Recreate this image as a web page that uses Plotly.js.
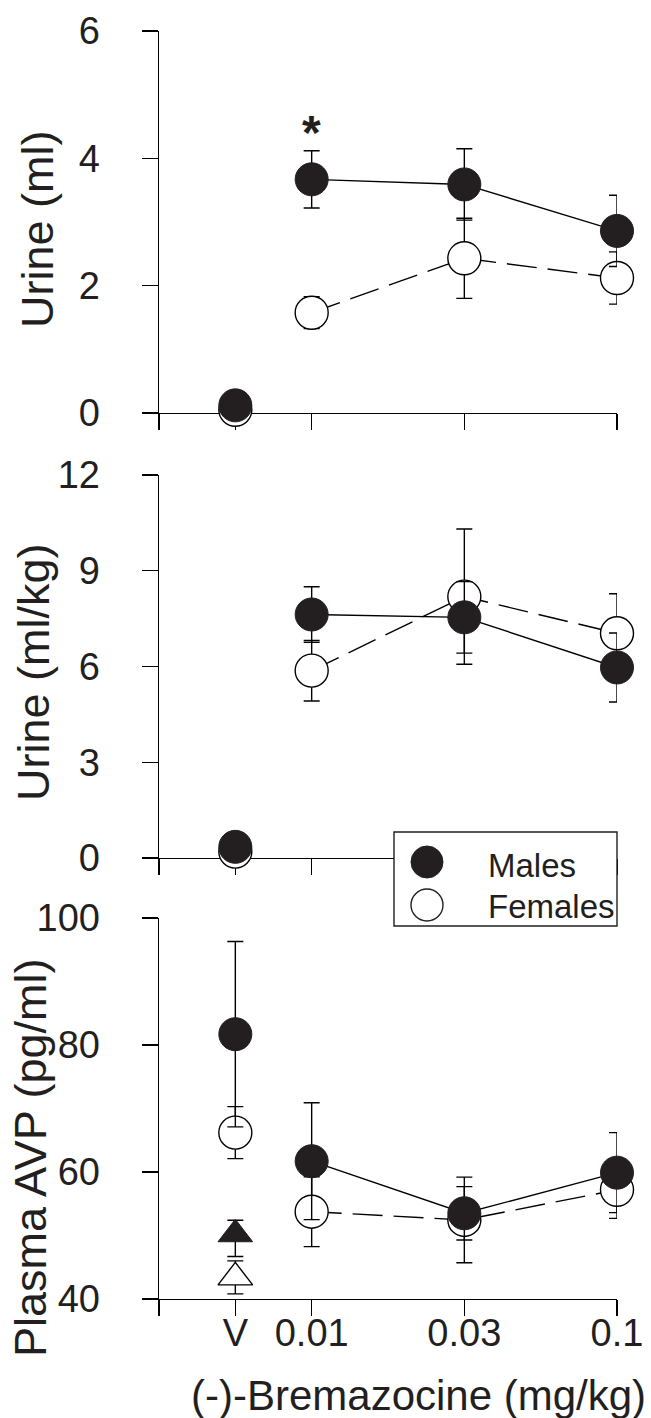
<!DOCTYPE html>
<html><head><meta charset="utf-8">
<script src="https://cdn.plot.ly/plotly-3.0.1.min.js"></script>
<style>html,body{margin:0;padding:0;background:#fff}#chart{width:651px;height:1418px}</style>
</head><body><div id="chart"></div>
<script>
// ---- data ----
const doseLabels = ['V', '0.01', '0.03', '0.1'];
const doseX = [-0.5, 0, 1, 2];

const maleUrineMl = [0.12, 3.67, 3.59, 2.86];
const maleUrineMlSE = [0, 0.45, 0.56, 0.56];
const femaleUrineMl = [0.05, 1.575, 2.43, 2.12];
const femaleUrineMlSE = [0, 0.25, 0.63, 0.41];

const maleUrineKg = [0.35, 7.63, 7.54, 5.97];
const maleUrineKgSE = [0, 0.87, 1.12, 1.08];
const femaleUrineKg = [0.2, 5.87, 8.19, 7.04];
const femaleUrineKgSE = [0, 0.95, 2.12, 1.24];

const maleAVP = [81.7, 61.7, 53.5, 59.9];
const maleAVPSE = [14.6, 9.2, 4.2, 6.3];
const femaleAVP = [66.2, 53.75, 52.45, 57.2];
const femaleAVPSE = [4.1, 5.5, 6.75, 4.5];

const maleBaselineAVP = [50.2];
const maleBaselineAVPSEplus = [2.2];
const maleBaselineAVPSEminus = [3.5];
const femaleBaselineAVP = [43.4];
const femaleBaselineAVPSE = [2.6];

// ---- style ----
const FONT = '"Liberation Sans", Arial, Helvetica, sans-serif';
const L = 159, R = 34, T = 31, B = 119, WIDTH = 651, HEIGHT = 1418;
const PW = WIDTH - L - R, PH = HEIGHT - T - B;
const px2x = p => (p - L) / PW;
const px2y = p => (HEIGHT - B - p) / PH;

const MS = 33;
function err(arr, minus) {
  const e = {type: 'data', array: arr, color: '#000', thickness: 1.4, width: 8};
  if (minus) { e.symmetric = false; e.arrayminus = minus; }
  return e;
}
function panel(xa, ya, mVals, mSE, fVals, fSE) {
  const tr = [];
  tr.push({x: doseX.slice(1), y: fVals.slice(1), xaxis: xa, yaxis: ya, type: 'scatter', mode: 'lines+markers',
    line: {color: '#000', width: 1.4, dash: '30px,11px'},
    marker: {symbol: 'circle', size: MS, color: '#fff', line: {color: '#000', width: 1.4}},
    error_y: err(fSE.slice(1)), cliponaxis: false, showlegend: false, name: 'Females'});
  tr.push({x: doseX.slice(0, 1), y: fVals.slice(0, 1), xaxis: xa, yaxis: ya, type: 'scatter', mode: 'markers',
    marker: {symbol: 'circle', size: MS, color: '#fff', line: {color: '#000', width: 1.4}},
    error_y: err(fSE.slice(0, 1)), cliponaxis: false, showlegend: false, name: 'Females'});
  tr.push({x: doseX.slice(1), y: mVals.slice(1), xaxis: xa, yaxis: ya, type: 'scatter', mode: 'lines+markers',
    line: {color: '#000', width: 1.4},
    marker: {symbol: 'circle', size: MS, color: '#231f20', line: {color: '#231f20', width: 1}},
    error_y: err(mSE.slice(1)), cliponaxis: false, showlegend: false, name: 'Males'});
  tr.push({x: doseX.slice(0, 1), y: mVals.slice(0, 1), xaxis: xa, yaxis: ya, type: 'scatter', mode: 'markers',
    marker: {symbol: 'circle', size: MS, color: '#231f20', line: {color: '#231f20', width: 1}},
    error_y: err(mSE.slice(0, 1)), cliponaxis: false, showlegend: false, name: 'Males'});
  return tr;
}

const data = [].concat(
  panel('x', 'y', maleUrineMl, maleUrineMlSE, femaleUrineMl, femaleUrineMlSE),
  panel('x2', 'y2', maleUrineKg, maleUrineKgSE, femaleUrineKg, femaleUrineKgSE),
  [{x: doseX.slice(0, 1), y: femaleBaselineAVP, xaxis: 'x3', yaxis: 'y3', type: 'scatter', mode: 'markers',
    marker: {symbol: 'triangle-up', size: 30, color: '#fff', line: {color: '#000', width: 1.4}},
    error_y: err(femaleBaselineAVPSE), cliponaxis: false, showlegend: false},
   {x: doseX.slice(0, 1), y: maleBaselineAVP, xaxis: 'x3', yaxis: 'y3', type: 'scatter', mode: 'markers',
    marker: {symbol: 'triangle-up', size: 30, color: '#231f20', line: {color: '#231f20', width: 1}},
    error_y: err(maleBaselineAVPSEplus, maleBaselineAVPSEminus), cliponaxis: false, showlegend: false}],
  panel('x3', 'y3', maleAVP, maleAVPSE, femaleAVP, femaleAVPSE)
);

const d3lo = 0, d3hi = px2y(918), d2lo = px2y(858), d2hi = px2y(475), d1lo = px2y(413), d1hi = 1;

function xaxis(anchor, labels) {
  return {anchor: anchor, domain: [0, 1], range: [-1, 2], showline: true, linecolor: '#000', linewidth: 1.4,
    ticks: 'outside', ticklen: 16, tickwidth: 1.4, tickcolor: '#000', ticklabelstandoff: -16,
    tickmode: 'array', tickvals: [-1].concat(doseX), ticktext: [''].concat(doseLabels),
    showticklabels: labels, tickfont: {family: FONT, size: 38, color: '#231f20'},
    showgrid: false, zeroline: false, layer: 'below traces'};
}
function yaxis(anchor, dom, range, dtick) {
  return {anchor: anchor, domain: dom, range: range, dtick: dtick, tick0: range[0], showline: true, linecolor: '#000', linewidth: 1.4,
    ticks: 'outside', ticklen: 16, tickwidth: 1.4, tickcolor: '#000', ticklabelstandoff: 34,
    tickfont: {family: FONT, size: 38, color: '#231f20'},
    showgrid: false, zeroline: false, layer: 'below traces'};
}

const ann = (text, x, y, size, extra) => Object.assign({text: text, x: x, y: y, xref: 'paper', yref: 'paper',
  showarrow: false, font: {family: FONT, size: size, color: '#231f20'}, xanchor: 'center', yanchor: 'middle'}, extra || {});

const layout = {
  width: WIDTH, height: HEIGHT,
  margin: {l: L, r: R, t: T, b: B, pad: 0},
  paper_bgcolor: '#fff', plot_bgcolor: 'rgba(0,0,0,0)',
  showlegend: false,
  font: {family: FONT, color: '#231f20'},
  xaxis: xaxis('y', false), yaxis: yaxis('x', [d1lo, d1hi], [0, 6], 2),
  xaxis2: xaxis('y2', false), yaxis2: yaxis('x2', [d2lo, d2hi], [0, 12], 3),
  xaxis3: xaxis('y3', true), yaxis3: yaxis('x3', [d3lo, d3hi], [40, 100], 20),
  annotations: [
    ann('Urine (ml)', px2x(37), px2y(229), 45, {textangle: -90}),
    ann('Urine (ml/kg)', px2x(33), px2y(672), 45, {textangle: -90}),
    ann('Plasma AVP (pg/ml)', px2x(30), px2y(1158), 45, {textangle: -90}),
    ann('(-)-Bremazocine (mg/kg)', px2x(418), px2y(1395), 42),
    {text: '<b>*</b>', x: 0, y: 4.52, xref: 'x', yref: 'y', showarrow: false, yshift: -7,
      font: {family: FONT, size: 48, color: '#231f20'}},
    ann('Males', px2x(486), px2y(865), 33, {xanchor: 'left'}),
    ann('Females', px2x(486), px2y(907), 33, {xanchor: 'left'})
  ],
  shapes: [
    {type: 'rect', xref: 'paper', yref: 'paper', x0: px2x(394), x1: px2x(617), y0: px2y(926), y1: px2y(832),
      fillcolor: '#fff', line: {color: '#231f20', width: 1.4}, layer: 'above'},
    {type: 'circle', xref: 'paper', yref: 'paper', xsizemode: 'pixel', ysizemode: 'pixel',
      xanchor: px2x(427), yanchor: px2y(862), x0: -16, x1: 16, y0: -16, y1: 16,
      fillcolor: '#231f20', line: {color: '#231f20', width: 1}, layer: 'above'},
    {type: 'circle', xref: 'paper', yref: 'paper', xsizemode: 'pixel', ysizemode: 'pixel',
      xanchor: px2x(427), yanchor: px2y(905), x0: -16, x1: 16, y0: -16, y1: 16,
      fillcolor: '#fff', line: {color: '#231f20', width: 1.4}, layer: 'above'}
  ]
};

Plotly.newPlot('chart', data, layout, {staticPlot: true, displayModeBar: false});
</script>
</body></html>
